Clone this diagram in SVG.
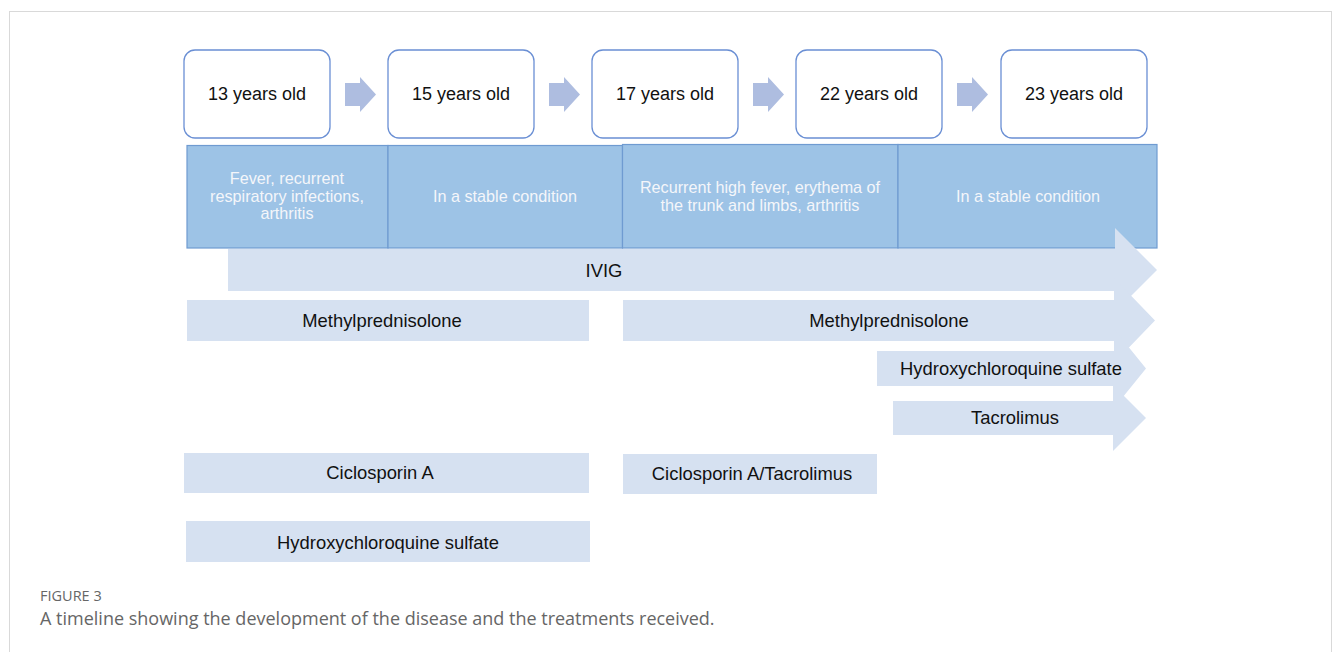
<svg xmlns="http://www.w3.org/2000/svg" width="1333" height="652" viewBox="0 0 1333 652">
<style>
.age rect{fill:#fff;stroke:#6a8fd4;stroke-width:1.3}
.age text{font-family:"Liberation Sans",Arial,sans-serif;font-size:18px;fill:#111;text-anchor:middle}
.step{fill:#aebde0}
.band rect{fill:#9dc3e6;stroke:#6f9bd1;stroke-width:1.2}
.band text{font-family:"Liberation Sans",Arial,sans-serif;font-size:16.2px;fill:#f4f6fa;text-anchor:middle}
.tx{fill:#d6e1f1}
.tt{font-family:"Liberation Sans",Arial,sans-serif;font-size:18.4px;fill:#111;text-anchor:middle}
</style>
<rect x="0" y="0" width="1333" height="652" fill="#fff"/>
<rect x="9.5" y="11.5" width="1322" height="700" fill="none" stroke="#d9d9d9" stroke-width="1"/>

<g id="age13" class="age"><rect x="184" y="50" width="146" height="88" rx="11"/><text x="257" y="100">13 years old</text></g>
<g id="age15" class="age"><rect x="388" y="50" width="146" height="88" rx="11"/><text x="461" y="100">15 years old</text></g>
<g id="age17" class="age"><rect x="592" y="50" width="146" height="88" rx="11"/><text x="665" y="100">17 years old</text></g>
<g id="age22" class="age"><rect x="796" y="50" width="146" height="88" rx="11"/><text x="869" y="100">22 years old</text></g>
<g id="age23" class="age"><rect x="1001" y="50" width="146" height="88" rx="11"/><text x="1074" y="100">23 years old</text></g>

<g id="connectors">
<path class="step" d="M345 83H360V77L376 94.5L360 112V106H345Z"/>
<path class="step" d="M549 83H564V77L580 94.5L564 112V106H549Z"/>
<path class="step" d="M753 83H768V77L784 94.5L768 112V106H753Z"/>
<path class="step" d="M957 83H972V77L988 94.5L972 112V106H957Z"/>
</g>

<g id="band" class="band">
<rect x="187" y="145.5" width="201" height="102.5"/>
<rect x="388" y="145.5" width="234.5" height="102.5"/>
<rect x="622.5" y="144.5" width="275.5" height="103.5"/>
<rect x="898" y="144.5" width="259" height="103.5"/>
<text x="287" y="184">Fever, recurrent</text>
<text x="287" y="202">respiratory infections,</text>
<text x="287" y="219">arthritis</text>
<text x="505" y="202">In a stable condition</text>
<text x="760" y="193">Recurrent high fever, erythema of</text>
<text x="760" y="211">the trunk and limbs, arthritis</text>
<text x="1028" y="202">In a stable condition</text>
</g>

<g id="ivig"><path class="tx" d="M228 249H1115V228L1157 270L1115 312V291H228Z"/><text class="tt" x="604" y="277">IVIG</text></g>
<g id="mp1"><rect class="tx" x="187" y="300" width="402" height="41"/><text class="tt" x="382" y="327">Methylprednisolone</text></g>
<g id="mp2"><path class="tx" d="M623 300H1114V278L1155 320.5L1114 363V341H623Z"/><text class="tt" x="889" y="327">Methylprednisolone</text></g>
<g id="hcq2"><path class="tx" d="M877 351H1114V329L1146 368.5L1114 408V386H877Z"/><text class="tt" x="1011" y="375">Hydroxychloroquine sulfate</text></g>
<g id="tac"><path class="tx" d="M893 401H1113V385L1146 418L1113 451V435H893Z"/><text class="tt" x="1015" y="424">Tacrolimus</text></g>
<g id="csa"><rect class="tx" x="184" y="453" width="405" height="40"/><text class="tt" x="380" y="479">Ciclosporin A</text></g>
<g id="csatac"><rect class="tx" x="623" y="454" width="254" height="40"/><text class="tt" x="752" y="480">Ciclosporin A/Tacrolimus</text></g>
<g id="hcq1"><rect class="tx" x="186" y="521" width="404" height="41"/><text class="tt" x="388" y="549">Hydroxychloroquine sulfate</text></g>

<g id="caption">
<text x="40" y="601" font-family="'Open Sans',sans-serif" font-size="14.5" fill="#666">FIGURE 3</text>
<text x="40" y="625" font-family="'Open Sans',sans-serif" font-size="18" fill="#666">A timeline showing the development of the disease and the treatments received.</text>
</g>
</svg>
